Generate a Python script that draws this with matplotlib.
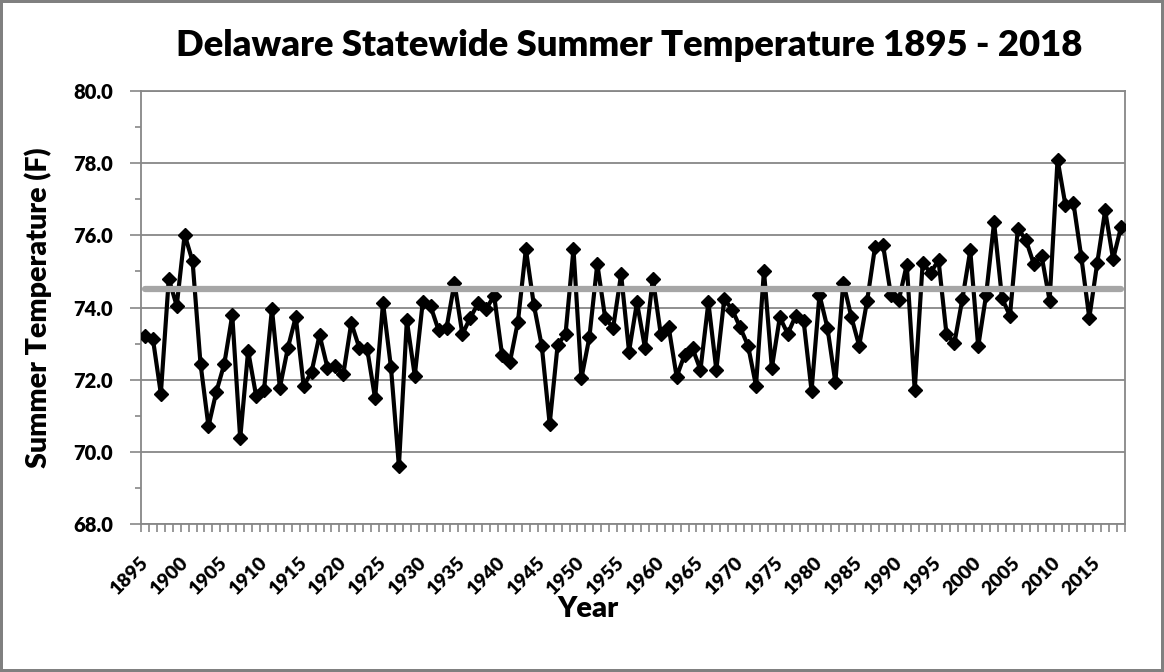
import numpy as np
import matplotlib
matplotlib.use("Agg")
import matplotlib.pyplot as plt
from matplotlib.ticker import MultipleLocator, FixedLocator, NullFormatter

# Delaware statewide summer (JJA) mean temperature, deg F
years = list(range(1895, 2019))
temps = [
    73.22, 73.13, 71.61, 74.79, 74.05, 76.02, 75.28, 72.44, 70.71, 71.67,  # 1895-1904
    72.44, 73.79, 70.37, 72.80, 71.56, 71.71, 73.96, 71.78, 72.87, 73.74,  # 1905-1914
    71.83, 72.22, 73.24, 72.33, 72.39, 72.16, 73.57, 72.89, 72.85, 71.48,  # 1915-1924
    74.13, 72.34, 69.60, 73.64, 72.11, 74.14, 74.03, 73.37, 73.43, 74.68,  # 1925-1934
    73.26, 73.72, 74.12, 73.96, 74.33, 72.69, 72.50, 73.61, 75.62, 74.08,  # 1935-1944
    72.94, 70.77, 72.96, 73.27, 75.62, 72.04, 73.17, 75.21, 73.70, 73.44,  # 1945-1954
    74.92, 72.78, 74.14, 72.89, 74.80, 73.26, 73.45, 72.08, 72.69, 72.87,  # 1955-1964
    72.27, 74.14, 72.27, 74.24, 73.94, 73.45, 72.94, 71.83, 75.02, 72.33,  # 1965-1974
    73.73, 73.27, 73.77, 73.63, 71.69, 74.35, 73.44, 71.93, 74.69, 73.75,  # 1975-1984
    72.94, 74.18, 75.68, 75.74, 74.35, 74.21, 75.19, 71.71, 75.23, 74.96,  # 1985-1994
    75.31, 73.27, 73.01, 74.23, 75.58, 72.92, 74.35, 76.36, 74.26, 73.77,  # 1995-2004
    76.18, 75.88, 75.21, 75.42, 74.19, 78.10, 76.83, 76.90, 75.39, 73.71,  # 2005-2014
    75.23, 76.69, 75.34, 76.23,                                            # 2015-2018
]
mean_temp = 74.52
label_years = list(range(1895, 2019, 5))

plt.rcParams['font.family'] = ['Lato', 'DejaVu Sans']
plt.rcParams['font.weight'] = 'heavy'

grid_gray = '#878787'

fig = plt.figure(figsize=(11.64, 6.72), dpi=100)
fig.patch.set_edgecolor('#808080')
fig.patch.set_linewidth(3)
ax = fig.add_axes([141 / 1164, 1 - 524 / 672, (1125 - 141) / 1164, (524 - 91) / 672])

ax.plot(years, temps, color='black', lw=3, marker='D', markersize=7.5, zorder=3)
ax.plot([years[0], years[-1]], [mean_temp, mean_temp], color='#a6a6a6', lw=4.5,
        solid_capstyle='round', zorder=4)

ax.set_xlim(years[0] - 0.5, years[-1] + 0.5)
ax.set_ylim(68, 80)

# y axis
ax.tick_params(axis='y', which='major', length=8, width=1.2, color=grid_gray,
               labelsize=14.5, pad=12)
ax.tick_params(axis='y', which='minor', length=4, width=1.2, color=grid_gray)
ax.yaxis.set_major_locator(MultipleLocator(2))
ax.yaxis.set_minor_locator(MultipleLocator(1))
ax.set_yticklabels([f'{v:.1f}' for v in ax.get_yticks()])
ax.yaxis.grid(True, which='major', color=grid_gray, lw=1.3)

# x axis: category boundaries as tick marks, labels every 5 years
ax.tick_params(axis='x', which='major', length=0, labelsize=14, pad=26)
ax.tick_params(axis='x', which='minor', length=6, width=1.2, color=grid_gray)
ax.xaxis.set_minor_locator(FixedLocator([y - 0.5 for y in years] + [years[-1] + 0.5]))
ax.xaxis.set_minor_formatter(NullFormatter())
ax.xaxis.set_major_locator(FixedLocator(label_years))
ax.set_xticklabels([str(y) for y in label_years])

for s in ax.spines.values():
    s.set_color(grid_gray)
    s.set_linewidth(1.3)

ax.set_ylabel('Summer Temperature (F)', fontsize=20.5, fontweight='heavy', va='center')
ax.yaxis.set_label_coords((38 - 141) / 984, 0.5)
ax.set_xlabel('Year', fontsize=21, fontweight='heavy', va='center')
ax.xaxis.set_label_coords((588 - 141) / 984, -(609 - 524) / 433)
fig.text(629 / 1164, 1 - 45 / 672, 'Delaware Statewide Summer Temperature 1895 - 2018',
         ha='center', va='center', fontsize=26.2, fontweight='heavy')

# rotate year labels so they end at their category
fig.canvas.draw()
for tick in ax.xaxis.get_major_ticks():
    tick.label1.set(rotation=45, ha='right', va='center', rotation_mode='anchor')

fig.savefig('out.png', dpi=100, edgecolor=fig.get_edgecolor())
